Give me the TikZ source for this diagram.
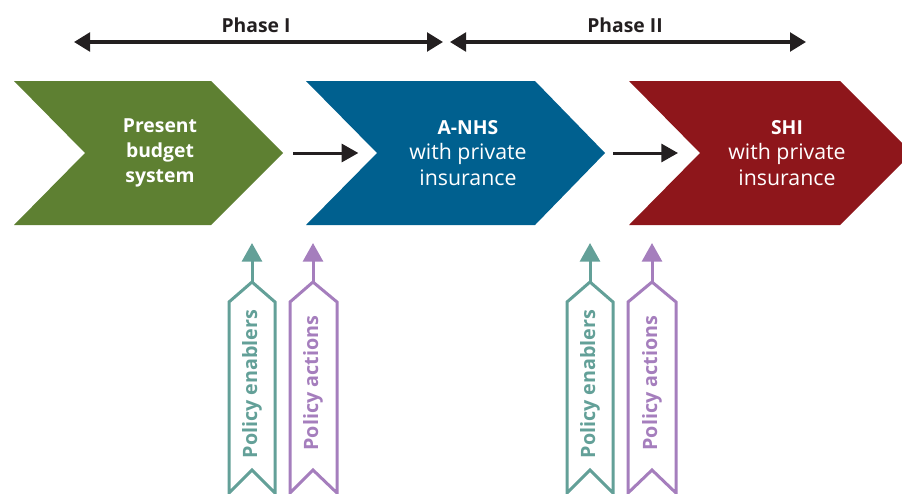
\documentclass[tikz,border=0pt]{standalone}
\usepackage{fontspec}
\setmainfont{Open Sans}
\usetikzlibrary{arrows.meta}

\definecolor{budgetgreen}{RGB}{94,128,50}
\definecolor{nhsblue}{RGB}{0,96,143}
\definecolor{shired}{RGB}{142,22,27}
\definecolor{enabteal}{RGB}{99,160,152}
\definecolor{actpurple}{RGB}{165,126,189}
\definecolor{arrowblack}{RGB}{35,31,32}

\newcommand{\stagehead}[1]{{\fontsize{14.5}{19}\selectfont\bfseries #1}}

\tikzset{
  phasearrow/.style={draw=arrowblack,line width=2.5pt,
    {Triangle[length=12pt,width=14pt]}-{Triangle[length=12pt,width=14pt]}},
  flowarrow/.style={draw=arrowblack,line width=2.25pt,-{Triangle[length=12.5pt,width=13.5pt]}},
  phasetext/.style={text=arrowblack,font=\fontsize{14.5}{17}\selectfont\bfseries},
  stagetext/.style={text=white,align=center,font=\fontsize{16}{19}\selectfont},
  ribbon/.style={line width=2.25pt,fill=white,line join=miter},
  ribbonarrow/.style={line width=2.25pt,-{Triangle[length=14pt,width=15pt]}},
  ribbontext/.style={rotate=90,font=\fontsize{14.8}{17}\selectfont\bfseries}
}

\begin{document}
\begin{tikzpicture}[x=0.75pt,y=-0.75pt]
\useasboundingbox (0,0) rectangle (902,493);

% phases
\coordinate (p1l) at (74,42);
\coordinate (p1r) at (443,42);
\coordinate (p2l) at (450,42);
\coordinate (p2r) at (806,42);
\draw[phasearrow] (p1l) -- (p1r);
\draw[phasearrow] (p2l) -- (p2r);
\node(phaseI) at (256,25)[phasetext] {Phase I};
\node(phaseII) at (625,25)[phasetext] {Phase II};

% stages
\fill[budgetgreen] (14,81) -- (211,81) -- (283,153) coordinate (gtip)
  -- (211,225) -- (14,225) -- (85,153) -- cycle;
\fill[nhsblue] (306,81) -- (535,81) -- (605,153) coordinate (btip)
  -- (535,225) -- (306,225) -- (377,153) coordinate (bnotch) -- cycle;
\fill[shired] (629,81) -- (840,81) -- (912,153)
  -- (840,225) -- (629,225) -- (700,153) coordinate (rnotch) -- cycle;

\node(present) at (160,153)[stagetext] {\stagehead{Present}\\\stagehead{budget}\\\stagehead{system}};
\node(anhs) at (468,153)[stagetext] {\stagehead{A-NHS}\\with private\\insurance};
\node(shi) at (787,153)[stagetext] {\stagehead{SHI}\\with private\\insurance};

\draw[flowarrow,shorten <=7.5pt,shorten >=14pt] (gtip) -- (bnotch);
\draw[flowarrow,shorten <=6pt,shorten >=16.5pt] (btip) -- (rnotch);

% policy ribbons, phase I
\draw[ribbon,draw=enabteal] (229,493) -- (229,302) -- (252,282) coordinate (e1peak)
  -- (275,302) -- (275,493) -- (252,470) -- cycle;
\draw[ribbon,draw=actpurple] (290,493) -- (290,302) -- (313,282) coordinate (a1peak)
  -- (337,302) -- (337,493) -- (313,470) -- cycle;
\coordinate (e1head) at (252,243);
\coordinate (a1head) at (313,243);
\draw[ribbonarrow,enabteal] (e1peak) -- (e1head);
\draw[ribbonarrow,actpurple] (a1peak) -- (a1head);
\node(enab1) at (252,384)[ribbontext,text=enabteal] {Policy enablers};
\node(act1) at (313,383)[ribbontext,text=actpurple] {Policy actions};

% policy ribbons, phase II
\draw[ribbon,draw=enabteal] (567,493) -- (567,302) -- (590,282) coordinate (e2peak)
  -- (613,302) -- (613,493) -- (590,470) -- cycle;
\draw[ribbon,draw=actpurple] (628,493) -- (628,302) -- (652,282) coordinate (a2peak)
  -- (676,302) -- (676,493) -- (652,470) -- cycle;
\coordinate (e2head) at (590,243);
\coordinate (a2head) at (652,243);
\draw[ribbonarrow,enabteal] (e2peak) -- (e2head);
\draw[ribbonarrow,actpurple] (a2peak) -- (a2head);
\node(enab2) at (590,384)[ribbontext,text=enabteal] {Policy enablers};
\node(act2) at (652,383)[ribbontext,text=actpurple] {Policy actions};

\end{tikzpicture}
\end{document}
